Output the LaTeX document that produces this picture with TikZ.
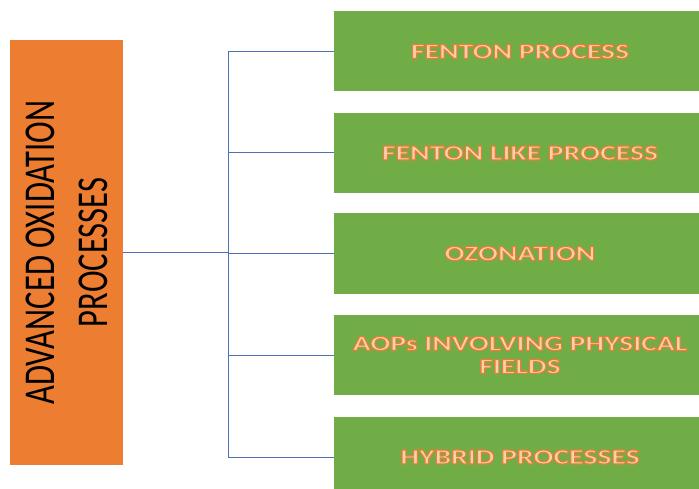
\documentclass[tikz,border=0pt]{standalone}
\usepackage{fontspec}
\setmainfont{Carlito}
\newfontfamily\headfont[FakeStretch=0.74]{Carlito}
\newfontfamily\itemfont[FakeStretch=1.38]{Carlito}
\definecolor{aoporange}{HTML}{ED7D31}
\definecolor{leafgreen}{HTML}{70AD47}
\definecolor{linkblue}{HTML}{5070B5}
% peach letters with an orange outline (fill + stroke text render mode)
\newcommand{\glow}[1]{%
  \special{pdf:code q 0.976 0.816 0.690 rg 0.929 0.490 0.192 RG 1.1 w 1 j 2 Tr}%
  #1%
  \special{pdf:code Q}}
\tikzset{
  rootbox/.style={fill=aoporange, draw=none, minimum width=113pt, minimum height=425pt,
    inner sep=0pt},
  leafbox/.style={fill=leafgreen, draw=none, minimum width=372pt, minimum height=80pt,
    inner sep=0pt, align=center, font=\itemfont\bfseries\fontsize{21.5}{23}\selectfont},
  link/.style={draw=linkblue, line width=1pt}
}
\begin{document}
\begin{tikzpicture}[x=1pt, y=-1pt]
  \useasboundingbox (0,0) rectangle (699,489);
  \fill[white] (0,0) rectangle (699,489);
  \clip (0,0) rectangle (699,489);

  % root category
  \node[rootbox] (aop) at (66.5,252.5) {};
  \node[rotate=90, align=center, text=black,
        font=\headfont\fontsize{44}{53}\selectfont] (aoptext) at (aop.center)
        {ADVANCED OXIDATION\\PROCESSES};

  % process families
  \node[leafbox] (fenton)   at (520,51.5)  {\glow{FENTON PROCESS}};
  \node[leafbox] (fentonlk) at (520,153)   {\glow{FENTON LIKE PROCESS}};
  \node[leafbox] (ozone)    at (520,253.5) {\glow{OZONATION}};
  \node[leafbox] (physical) at (520,355)   {\glow{AOPs INVOLVING PHYSICAL}\\\glow{FIELDS}};
  \node[leafbox] (hybrid)   at (520,457)   {\glow{HYBRID PROCESSES}};

  % tree connectors
  \coordinate (hub) at (228,252.5);
  \draw[link] (aop.east) -- (hub);
  \foreach \leaf in {fenton,fentonlk,ozone,physical,hybrid}
    \draw[link] (hub) |- (\leaf.west);
\end{tikzpicture}
\end{document}
